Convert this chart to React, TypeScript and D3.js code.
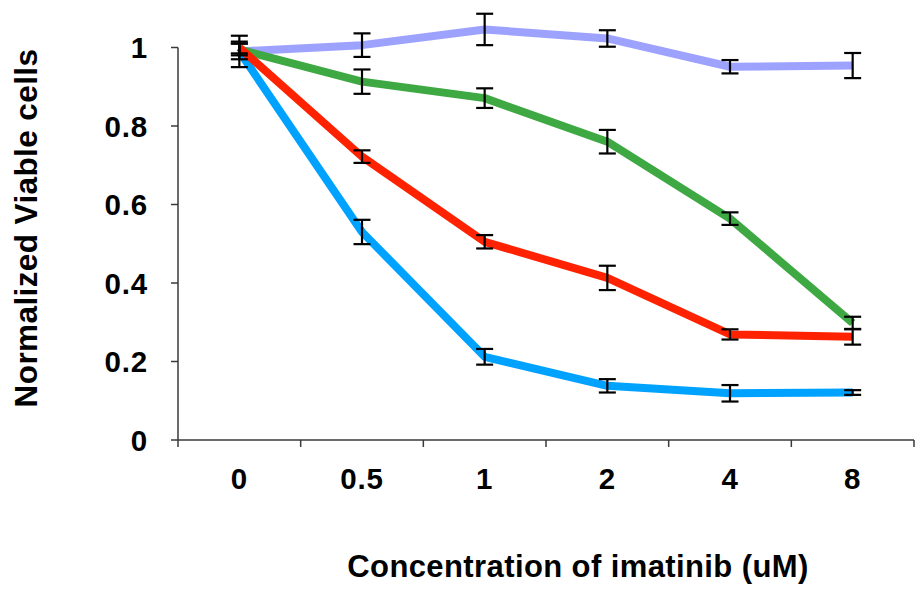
import React, { useEffect, useRef } from 'react';
import * as d3 from 'd3';

const width = 916;
const height = 593;

const plotMargins = {
  top: 47.5,
  bottom: 153,
  left: 178,
  right: 2,
};

// concentrations of imatinib (uM)
const concentrations = ['0', '0.5', '1', '2', '4', '8'];
const yTicks = [0, 0.2, 0.4, 0.6, 0.8, 1];

// normalized viable cells per series, with error (+/-)
const lavenderValues = [0.99, 1.006, 1.046, 1.023, 0.951, 0.954];
const lavenderErrors = [0.04, 0.03, 0.04, 0.021, 0.017, 0.032];

const greenValues = [0.995, 0.913, 0.871, 0.76, 0.564, 0.298];
const greenErrors = [0.015, 0.031, 0.025, 0.03, 0.016, 0.016];

const blueValues = [0.99, 0.53, 0.212, 0.138, 0.119, 0.121];
const blueErrors = [0.02, 0.031, 0.02, 0.017, 0.021, 0.006];

const redValues = [1.0, 0.722, 0.505, 0.413, 0.269, 0.263];
const redErrors = [0.015, 0.016, 0.017, 0.031, 0.013, 0.02];

type Series = {
  color: string;
  values: number[];
  errors: number[];
};

const series: Series[] = [
  { color: '#9ea2ff', values: lavenderValues, errors: lavenderErrors },
  { color: '#3ea843', values: greenValues, errors: greenErrors },
  { color: '#00a2ff', values: blueValues, errors: blueErrors },
  { color: '#ff2200', values: redValues, errors: redErrors },
];

const font = '"Liberation Sans", Arial, sans-serif';

export const ViabilityChart = (): JSX.Element => {
  const container = useRef(null);

  useEffect(() => {
    document.body.style.margin = '0';
    const root = d3.select(container.current);
    root.selectAll('*').remove();

    const canvas = root
      .append('svg')
      .attr('width', width)
      .attr('height', height)
      .style('display', 'block')
      .style('background', '#ffffff');

    const xScale = d3
      .scaleBand<string>()
      .domain(concentrations)
      .range([plotMargins.left, width - plotMargins.right]);
    const yScale = d3
      .scaleLinear()
      .domain([0, 1])
      .range([height - plotMargins.bottom, plotMargins.top]);

    const cx = (i: number) => (xScale(concentrations[i]) || 0) + xScale.bandwidth() / 2;

    const axisColor = '#3a3a3a';

    // y axis
    const yAxis = canvas.append('g');
    yAxis
      .append('line')
      .attr('x1', plotMargins.left)
      .attr('x2', plotMargins.left)
      .attr('y1', yScale(1))
      .attr('y2', yScale(0))
      .attr('stroke', axisColor)
      .attr('stroke-width', 1.5);
    yTicks.forEach((t) => {
      yAxis
        .append('line')
        .attr('x1', plotMargins.left - 7)
        .attr('x2', plotMargins.left)
        .attr('y1', yScale(t))
        .attr('y2', yScale(t))
        .attr('stroke', axisColor)
        .attr('stroke-width', 1.5);
      yAxis
        .append('text')
        .attr('x', 148)
        .attr('y', yScale(t) + 10.5)
        .attr('text-anchor', 'end')
        .attr('font-family', font)
        .attr('font-weight', 'bold')
        .attr('font-size', 29.5)
        .attr('letter-spacing', 0.8)
        .text(String(t));
    });

    // x axis
    const xAxis = canvas.append('g');
    xAxis
      .append('line')
      .attr('x1', plotMargins.left)
      .attr('x2', width - plotMargins.right)
      .attr('y1', yScale(0))
      .attr('y2', yScale(0))
      .attr('stroke', axisColor)
      .attr('stroke-width', 1.5);
    const boundaries = concentrations.map((c) => xScale(c) || 0);
    boundaries.push(width - plotMargins.right);
    boundaries.forEach((bx) => {
      xAxis
        .append('line')
        .attr('x1', bx)
        .attr('x2', bx)
        .attr('y1', yScale(0))
        .attr('y2', yScale(0) + 7)
        .attr('stroke', axisColor)
        .attr('stroke-width', 1.5);
    });
    concentrations.forEach((c, i) => {
      xAxis
        .append('text')
        .attr('x', cx(i))
        .attr('y', 489)
        .attr('text-anchor', 'middle')
        .attr('font-family', font)
        .attr('font-weight', 'bold')
        .attr('font-size', 29.5)
        .attr('letter-spacing', 0.8)
        .text(c);
    });

    // axis titles
    canvas
      .append('text')
      .attr('x', 578)
      .attr('y', 577)
      .attr('text-anchor', 'middle')
      .attr('font-family', font)
      .attr('font-weight', 'bold')
      .attr('font-size', 31)
      .attr('letter-spacing', 0.4)
      .text('Concentration of imatinib (uM)');
    canvas
      .append('text')
      .attr('transform', 'translate(37,228) rotate(-90)')
      .attr('text-anchor', 'middle')
      .attr('font-family', font)
      .attr('font-weight', 'bold')
      .attr('font-size', 31.5)
      .attr('letter-spacing', 0.4)
      .text('Normalized Viable cells');

    // series lines
    const lineGenerator = d3
      .line<number>()
      .x((d, i) => cx(i))
      .y((d) => yScale(d));

    series.forEach((s) => {
      canvas
        .append('path')
        .attr('d', lineGenerator(s.values) || '')
        .attr('stroke', s.color)
        .attr('stroke-width', 8)
        .attr('stroke-linejoin', 'round')
        .attr('fill', 'none');
    });

    // error bars on top
    const capHalf = 8.5;
    series.forEach((s) => {
      const g = canvas.append('g').attr('stroke', '#000000').attr('stroke-width', 2.2);
      s.values.forEach((v, i) => {
        const x = cx(i);
        const top = yScale(v + s.errors[i]);
        const bottom = yScale(v - s.errors[i]);
        g.append('line').attr('x1', x).attr('x2', x).attr('y1', top).attr('y2', bottom);
        g.append('line')
          .attr('x1', x - capHalf)
          .attr('x2', x + capHalf)
          .attr('y1', top)
          .attr('y2', top);
        g.append('line')
          .attr('x1', x - capHalf)
          .attr('x2', x + capHalf)
          .attr('y1', bottom)
          .attr('y2', bottom);
      });
    });
  }, []);

  return <div className="viability-chart" ref={container} />;
};

export default function App() {
  return <ViabilityChart />;
}
